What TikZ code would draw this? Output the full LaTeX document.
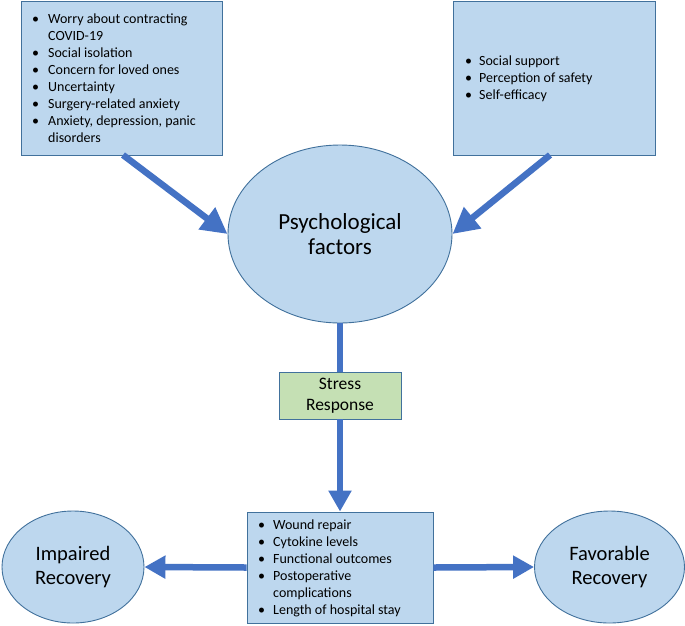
\documentclass[tikz,border=0pt]{standalone}
\usepackage{fontspec}
\setmainfont{Carlito}
\usetikzlibrary{arrows.meta,shapes.geometric}
\definecolor{fillblue}{HTML}{BDD7EE}
\definecolor{edgeblue}{HTML}{41719C}
\definecolor{arrowblue}{HTML}{4472C4}
\definecolor{fillgreen}{HTML}{C5E0B4}
\begin{document}
\begin{tikzpicture}[x=1pt,y=-1pt,
  box/.style={draw=edgeblue, line width=0.9pt, fill=fillblue, inner sep=0pt},
  oval/.style={ellipse, draw=edgeblue, line width=0.9pt, fill=fillblue, inner sep=0pt, align=center},
  flow/.style={draw=arrowblue, line width=6.5pt, -{Triangle[width=22pt,length=21pt]}},
  bigflow/.style={draw=arrowblue, line width=6.5pt, -{Triangle[width=26pt,length=26pt]}},
  plainflow/.style={draw=arrowblue, line width=6.5pt},
  listtext/.style={anchor=north west, inner sep=0pt, font=\fontsize{14}{17}\selectfont}]
\useasboundingbox (0,0) rectangle (685,625);
\fill[white] (0,0) rectangle (685,625);

% top-left box
\node[box, minimum width=201pt, minimum height=154pt, anchor=north west] (tl) at (21,0.5) {};
\node[listtext] (tltext) at (32,11) {\begin{tabular}{@{}p{16pt}@{}p{175pt}@{}}
\textbullet & Worry about contracting\newline COVID-19\\
\textbullet & Social isolation\\
\textbullet & Concern for loved ones\\
\textbullet & Uncertainty\\
\textbullet & Surgery-related anxiety\\
\textbullet & Anxiety, depression, panic\newline disorders
\end{tabular}};

% top-right box
\node[box, minimum width=202pt, minimum height=154pt, anchor=north west] (tr) at (453,0.5) {};
\node[listtext] (trtext) at (465,53) {\begin{tabular}{@{}p{14pt}@{}p{170pt}@{}}
\textbullet & Social support\\
\textbullet & Perception of safety\\
\textbullet & Self-efficacy
\end{tabular}};

% central ellipse
\node[oval, minimum width=224pt, minimum height=178pt, font=\fontsize{23}{25}\selectfont] (psy) at (340,234) {Psychological\\factors};

% stress response
\node[draw=edgeblue, line width=0.9pt, fill=fillgreen, minimum width=122pt, minimum height=47pt, inner sep=0pt, align=center, font=\fontsize{17.5}{21}\selectfont] (stress) at (340,395.5) {Stress\\Response};

% outcomes box
\node[box, minimum width=186pt, minimum height=111pt] (out) at (340,567.5) {};
\node[listtext, font=\fontsize{14}{17}\selectfont] (outtext) at (258,517) {\begin{tabular}{@{}p{15pt}@{}p{160pt}@{}}
\textbullet & Wound repair\\
\textbullet & Cytokine levels\\
\textbullet & Functional outcomes\\
\textbullet & Postoperative\newline complications\\
\textbullet & Length of hospital stay
\end{tabular}};

% recovery ovals
\node[oval, minimum width=142pt, minimum height=112pt, font=\fontsize{20.5}{24}\selectfont] (imp) at (73,567) {Impaired\\Recovery};
\node[oval, minimum width=150pt, minimum height=112pt, font=\fontsize{20.5}{24}\selectfont] (fav) at (609.5,567) {Favorable\\Recovery};

% connectors
\coordinate (tlout) at (123,155);
\coordinate (trout) at (550,155);
\draw[bigflow] (tlout) -- (psy.west);
\draw[bigflow] (trout) -- (psy.east);
\draw[plainflow] (psy.south) -- (stress.north);
\draw[flow] (stress.south) -- (out.north);
\draw[flow] (out.west) -- (imp.east);
\draw[flow] (out.east) -- (fav.west);
\end{tikzpicture}
\end{document}
